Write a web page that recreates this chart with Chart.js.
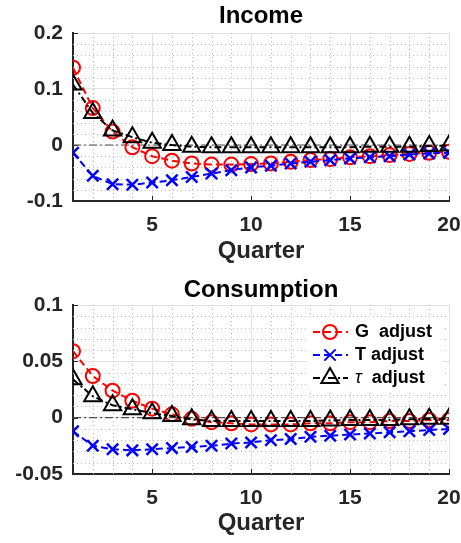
<!DOCTYPE html>
<html>
<head>
<meta charset="utf-8">
<script src="https://cdn.jsdelivr.net/npm/chart.js@4.4.0/dist/chart.umd.min.js"></script>
<style>
  html, body { margin: 0; padding: 0; background: #fff; }
  #wrap { position: relative; width: 461px; height: 543px; }
  canvas { position: absolute; left: 0; }
</style>
</head>
<body>
<div id="wrap">
  <canvas id="incomeChart" width="461" height="271" style="top:0"></canvas>
  <canvas id="consChart" width="461" height="272" style="top:271px"></canvas>
</div>
<script>
const quarters = [1, 2, 3, 4, 5, 6, 7, 8, 9, 10, 11, 12, 13, 14, 15, 16, 17, 18, 19, 20];

// Income responses
const incomeG = [0.138, 0.066, 0.024, -0.004, -0.020, -0.028, -0.033, -0.035, -0.035, -0.034,
  -0.033, -0.030, -0.027, -0.025, -0.022, -0.020, -0.018, -0.016, -0.014, -0.012];
const incomeT = [-0.014, -0.055, -0.070, -0.071, -0.067, -0.063, -0.057, -0.051, -0.045, -0.040,
  -0.037, -0.033, -0.030, -0.027, -0.024, -0.022, -0.020, -0.017, -0.015, -0.014];
const incomeTau = [0.108, 0.057, 0.026, 0.014, 0.004, 0.000, -0.003, -0.004, -0.004, -0.004,
  -0.004, -0.004, -0.004, -0.004, -0.004, -0.003, -0.003, -0.003, -0.002, -0.001];

// Consumption responses
const consG = [0.059, 0.037, 0.024, 0.015, 0.008, 0.003, -0.001, -0.004, -0.005, -0.006,
  -0.006, -0.006, -0.005, -0.005, -0.004, -0.004, -0.003, -0.003, -0.002, -0.002];
const consT = [-0.012, -0.025, -0.028, -0.029, -0.028, -0.027, -0.026, -0.025, -0.023, -0.022,
  -0.020, -0.019, -0.017, -0.016, -0.015, -0.014, -0.013, -0.012, -0.011, -0.010];
const consTau = [0.034, 0.019, 0.011, 0.0075, 0.004, 0.0015, -0.0015, -0.003, -0.003, -0.003,
  -0.003, -0.003, -0.003, -0.0025, -0.002, -0.002, -0.002, -0.0015, -0.001, -0.001];

const seriesLabels = ["G  adjust", "T adjust", "τ  adjust"];
const xTicksShown = [5, 10, 15, 20];
const incomeYTicks = [-0.1, 0, 0.1, 0.2];
const consYTicks = [-0.05, 0, 0.05, 0.1];

const FONT = "'Liberation Sans', Arial, Helvetica, sans-serif";
const AXIS_COLOR = "#262626";

function pts(arr) {
  return quarters.map((q, i) => ({ x: q, y: arr[i] }));
}

function isMajor(v, step) {
  return Math.abs(v / step - Math.round(v / step)) < 1e-6;
}

function buildDatasets(g, t, tau) {
  return [
    {
      label: seriesLabels[0], data: pts(g), order: 3,
      borderColor: "#ff0000", borderWidth: 2, borderDash: [7, 4],
      pointStyle: "circle", pointRadius: 7, pointBorderWidth: 2,
      pointBorderColor: "#ff0000", pointBackgroundColor: "rgba(0,0,0,0)",
    },
    {
      label: seriesLabels[1], data: pts(t), order: 2,
      borderColor: "#0000ff", borderWidth: 2, borderDash: [7, 4],
      pointStyle: "crossRot", pointRadius: 8, pointBorderWidth: 2.5,
      pointBorderColor: "#0000ff", pointBackgroundColor: "rgba(0,0,0,0)",
    },
    {
      label: seriesLabels[2], data: pts(tau), order: 1,
      borderColor: "#000000", borderWidth: 2, borderDash: [7, 3, 2, 3],
      pointStyle: "triangle", pointRadius: 10, pointBorderWidth: 2,
      pointBorderColor: "#000000", pointBackgroundColor: "rgba(0,0,0,0)",
    },
    {
      label: "", data: pts(quarters.map(() => 0)), order: 4,
      borderColor: "#4d4d4d", borderWidth: 1.2, borderDash: [8, 3, 2, 3],
      pointRadius: 0,
    },
  ];
}

// minor dotted grid, inward ticks, centred title, optional legend
function decorPlugin(cfg) {
  return {
    id: "decor",
    beforeDatasetsDraw(chart) {
      const ctx = chart.ctx;
      const a = chart.chartArea;
      const xs = chart.scales.x;
      const ys = chart.scales.y;
      ctx.save();
      ctx.strokeStyle = "#bdbdbd";
      ctx.lineWidth = 1;
      ctx.setLineDash([1, 3]);
      quarters.forEach((q) => {
        if (q % 5 === 0 || q === 1) return;
        const px = Math.round(xs.getPixelForValue(q)) + 0.5;
        ctx.beginPath();
        ctx.moveTo(px, a.top);
        ctx.lineTo(px, a.bottom);
        ctx.stroke();
      });
      ys.ticks.forEach((tk) => {
        if (isMajor(tk.value, cfg.yMajor)) return;
        const py = Math.round(ys.getPixelForValue(tk.value)) + 0.5;
        ctx.beginPath();
        ctx.moveTo(a.left, py);
        ctx.lineTo(a.right, py);
        ctx.stroke();
      });
      ctx.setLineDash([]);
      ctx.strokeStyle = AXIS_COLOR;
      xTicksShown.forEach((q) => {
        const px = Math.round(xs.getPixelForValue(q)) + 0.5;
        ctx.beginPath();
        ctx.moveTo(px, a.bottom);
        ctx.lineTo(px, a.bottom - 5);
        ctx.stroke();
      });
      cfg.yTicks.forEach((v) => {
        const py = Math.round(ys.getPixelForValue(v)) + 0.5;
        ctx.beginPath();
        ctx.moveTo(a.left, py);
        ctx.lineTo(a.left + 5, py);
        ctx.stroke();
      });
      ctx.restore();
    },
    afterDraw(chart) {
      const ctx = chart.ctx;
      const a = chart.chartArea;
      ctx.save();
      ctx.fillStyle = "#000";
      ctx.font = "bold 24px " + FONT;
      ctx.textAlign = "center";
      ctx.textBaseline = "alphabetic";
      ctx.fillText(cfg.title, (a.left + a.right) / 2, cfg.titleY);

      if (cfg.legend) {
        ctx.fillStyle = "#fff";
        ctx.fillRect(308, 46, 134, 74);
        chart.data.datasets.filter((d) => d.label).forEach((d, i) => {
          const y = 61 + i * 23;
          ctx.strokeStyle = d.borderColor;
          ctx.lineWidth = 2;
          ctx.setLineDash(d.borderDash);
          ctx.beginPath();
          ctx.moveTo(313, y);
          ctx.lineTo(348, y);
          ctx.stroke();
          ctx.setLineDash([]);
          ctx.fillStyle = "rgba(0,0,0,0)";
          Chart.helpers.drawPoint(ctx, {
            pointStyle: d.pointStyle, radius: d.pointRadius,
            borderWidth: d.pointBorderWidth, rotation: 0,
          }, 330, y);
          ctx.fillStyle = "#000";
          ctx.textAlign = "left";
          ctx.textBaseline = "middle";
          let tx = 355;
          let txt = d.label;
          if (txt.startsWith("τ")) {
            ctx.font = "italic 18px " + FONT;
            ctx.fillText("τ", tx, y);
            tx += ctx.measureText("τ").width;
            txt = txt.slice(1);
          }
          ctx.font = "bold 18px " + FONT;
          ctx.fillText(txt, tx, y);
        });
      }
      ctx.restore();
    },
  };
}

function makeChart(id, cfg, datasets) {
  const canvas = document.getElementById(id);
  return new Chart(canvas.getContext("2d"), {
    type: "line",
    data: { datasets: datasets },
    options: {
      responsive: false,
      animation: false,
      layout: { padding: { top: cfg.plotTop, right: 11, left: 0, bottom: 0 } },
      plugins: { legend: { display: false }, tooltip: { enabled: false } },
      scales: {
        x: {
          type: "linear", min: 1, max: 20,
          afterFit: (s) => {
            s.height = canvas.height - cfg.plotBottom;
            s.paddingLeft = 0;
            s.paddingRight = 0;
          },
          ticks: {
            stepSize: 1, autoSkip: false, maxRotation: 0, padding: 12,
            color: AXIS_COLOR, font: { family: FONT, size: 21, weight: "bold" },
            callback: (v) => (xTicksShown.includes(v) ? String(v) : ""),
          },
          grid: {
            drawTicks: false, lineWidth: 1,
            color: (c) => (c.tick && xTicksShown.includes(c.tick.value) ? "#e2e2e2" : "rgba(0,0,0,0)"),
          },
          border: { color: AXIS_COLOR, width: 2 },
          title: {
            display: true, text: "Quarter", color: AXIS_COLOR,
            font: { family: FONT, size: 24, weight: "bold" },
            padding: { top: 4, bottom: 5 },
          },
        },
        y: {
          min: cfg.yMin, max: cfg.yMax,
          afterFit: (s) => {
            s.width = 73;
            s.paddingTop = 0;
            s.paddingBottom = 0;
          },
          ticks: {
            stepSize: cfg.yMinor, autoSkip: false, padding: 10,
            color: AXIS_COLOR, font: { family: FONT, size: 21, weight: "bold" },
            callback: (v) => (isMajor(v, cfg.yMajor) ? String(Math.round(v * 100) / 100) : ""),
          },
          grid: {
            drawTicks: false, lineWidth: 1,
            color: (c) => (c.tick && isMajor(c.tick.value, cfg.yMajor) ? "#e2e2e2" : "rgba(0,0,0,0)"),
          },
          border: { color: AXIS_COLOR, width: 2 },
        },
      },
    },
    plugins: [decorPlugin(cfg)],
  });
}

makeChart("incomeChart", {
  title: "Income", titleY: 23, plotTop: 33, plotBottom: 201,
  yMin: -0.1, yMax: 0.2, yMinor: 0.02, yMajor: 0.1, yTicks: incomeYTicks, legend: false,
}, buildDatasets(incomeG, incomeT, incomeTau));

makeChart("consChart", {
  title: "Consumption", titleY: 26, plotTop: 34, plotBottom: 203,
  yMin: -0.05, yMax: 0.1, yMinor: 0.01, yMajor: 0.05, yTicks: consYTicks, legend: true,
}, buildDatasets(consG, consT, consTau));
</script>
</body>
</html>
